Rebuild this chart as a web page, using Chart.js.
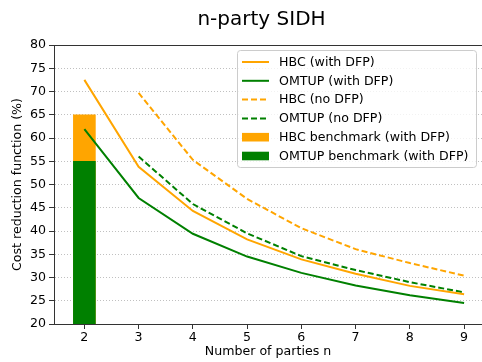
<!DOCTYPE html>
<html>
<head>
<meta charset="utf-8">
<script src="https://cdn.jsdelivr.net/npm/chart.js@4"></script>
<style>
  html, body { margin: 0; padding: 0; background: #fff; }
  #wrap { width: 482px; height: 362px; }
</style>
</head>
<body>
<div id="wrap"><canvas id="chart" width="482" height="362"></canvas></div>
<script>
// values
const parties = [2, 3, 4, 5, 6, 7, 8, 9];
const partiesNoDfp = [3, 4, 5, 6, 7, 8, 9];
const hbcWithDfp = [72.5, 53.8, 44.3, 38.2, 33.9, 30.8, 28.2, 26.4];
const omtupWithDfp = [61.9, 47.1, 39.4, 34.5, 31.0, 28.3, 26.2, 24.5];
const hbcNoDfp = [69.7, 55.3, 46.9, 40.6, 36.1, 33.1, 30.4];
const omtupNoDfp = [56.0, 45.8, 39.5, 34.6, 31.6, 29.0, 26.8];
const benchParty = 2;
const hbcBenchmark = 65;
const omtupBenchmark = 55;
const yTicks = [20, 25, 30, 35, 40, 45, 50, 55, 60, 65, 70, 75, 80];

const ORANGE = '#ffa500';
const GREEN = '#008000';
const FONT = 'DejaVu Sans';
const SPINE = '#333';

function pts(xs, ys) {
  return xs.map((x, i) => ({ x: x, y: ys[i] }));
}

// matplotlib-like legend box inside the plot, plus title and top spine
const extras = {
  id: 'extras',
  afterDraw(chart) {
    const ctx = chart.ctx;
    const area = chart.chartArea;
    ctx.save();
    // top spine
    ctx.strokeStyle = SPINE;
    ctx.lineWidth = 1;
    ctx.beginPath();
    ctx.moveTo(area.left, area.top + 0.5);
    ctx.lineTo(area.right, area.top + 0.5);
    ctx.stroke();

    // title
    ctx.fillStyle = '#000';
    ctx.font = '20px "' + FONT + '"';
    ctx.textAlign = 'center';
    ctx.textBaseline = 'middle';
    ctx.fillText('n-party SIDH', 261.5, 19.5);

    // legend
    const bx = 237.5, by = 50.5, bw = 239, bh = 117;
    ctx.beginPath();
    ctx.roundRect(bx, by, bw, bh, 3);
    ctx.fillStyle = 'rgba(255,255,255,0.8)';
    ctx.fill();
    ctx.strokeStyle = '#cccccc';
    ctx.lineWidth = 1;
    ctx.stroke();

    ctx.font = '12.6px "' + FONT + '"';
    ctx.textAlign = 'left';
    chart.data.datasets.forEach((ds, i) => {
      const y = 62 + i * 18.8;
      if (ds.type === 'bar') {
        ctx.fillStyle = ds.backgroundColor;
        ctx.fillRect(242, y - 4.3, 27, 8.6);
      } else {
        ctx.strokeStyle = ds.borderColor;
        ctx.lineWidth = 2;
        ctx.setLineDash(ds.borderDash || []);
        ctx.beginPath();
        ctx.moveTo(242, y);
        ctx.lineTo(269, y);
        ctx.stroke();
        ctx.setLineDash([]);
      }
      ctx.fillStyle = '#000';
      ctx.fillText(ds.label, 279, y + 0.5);
    });
    ctx.restore();
  }
};

const tickFont = { family: FONT, size: 12.6 };

new Chart(document.getElementById('chart'), {
  type: 'line',
  data: {
    datasets: [
      { label: 'HBC (with DFP)', data: pts(parties, hbcWithDfp), borderColor: ORANGE, borderWidth: 2, pointRadius: 0, order: 0 },
      { label: 'OMTUP (with DFP)', data: pts(parties, omtupWithDfp), borderColor: GREEN, borderWidth: 2, pointRadius: 0, order: 0 },
      { label: 'HBC (no DFP)', data: pts(partiesNoDfp, hbcNoDfp), borderColor: ORANGE, borderWidth: 2, borderDash: [6, 3], pointRadius: 0, order: 0 },
      { label: 'OMTUP (no DFP)', data: pts(partiesNoDfp, omtupNoDfp), borderColor: GREEN, borderWidth: 2, borderDash: [6, 3], pointRadius: 0, order: 0 },
      { type: 'bar', label: 'HBC benchmark (with DFP)', data: [{ x: benchParty, y: hbcBenchmark }], base: 20,
        backgroundColor: ORANGE, barThickness: 22, grouped: false, order: 2 },
      { type: 'bar', label: 'OMTUP benchmark (with DFP)', data: [{ x: benchParty, y: omtupBenchmark }], base: 20,
        backgroundColor: GREEN, barThickness: 22, grouped: false, order: 1 }
    ]
  },
  options: {
    responsive: false,
    animation: false,
    devicePixelRatio: 1,
    layout: { padding: { top: 45, left: 0, right: 0, bottom: 0 } },
    plugins: {
      legend: { display: false },
      title: { display: false },
      tooltip: { enabled: false }
    },
    scales: {
      x: {
        type: 'linear',
        min: 1.44,
        max: 9.33,
        offset: false,
        afterBuildTicks: (s) => { s.ticks = parties.map(v => ({ value: v })); },
        afterFit: (s) => { s.height = 38; },
        grid: { drawOnChartArea: false, offset: false, tickLength: 5, tickColor: SPINE, tickWidth: 1 },
        border: { color: SPINE, width: 1 },
        ticks: { font: tickFont, color: '#000', padding: 1, maxRotation: 0 },
        title: { display: true, text: 'Number of parties n', font: tickFont, color: '#000', padding: { top: 0, bottom: 2.5 } }
      },
      y: {
        min: 20,
        max: 80,
        afterBuildTicks: (s) => { s.ticks = yTicks.map(v => ({ value: v })); },
        afterFit: (s) => { s.width = 54; },
        grid: { color: '#b0b0b0', lineWidth: 0.8, tickLength: 5, tickColor: SPINE, tickWidth: 1, tickBorderDash: [] },
        border: { color: SPINE, width: 1, dash: [1, 2] },
        ticks: { font: tickFont, color: '#000', padding: 3 },
        title: { display: true, text: 'Cost reduction function (%)', font: tickFont, color: '#000', padding: { top: 10, bottom: 0 } }
      }
    }
  },
  plugins: [extras]
});
</script>
</body>
</html>
